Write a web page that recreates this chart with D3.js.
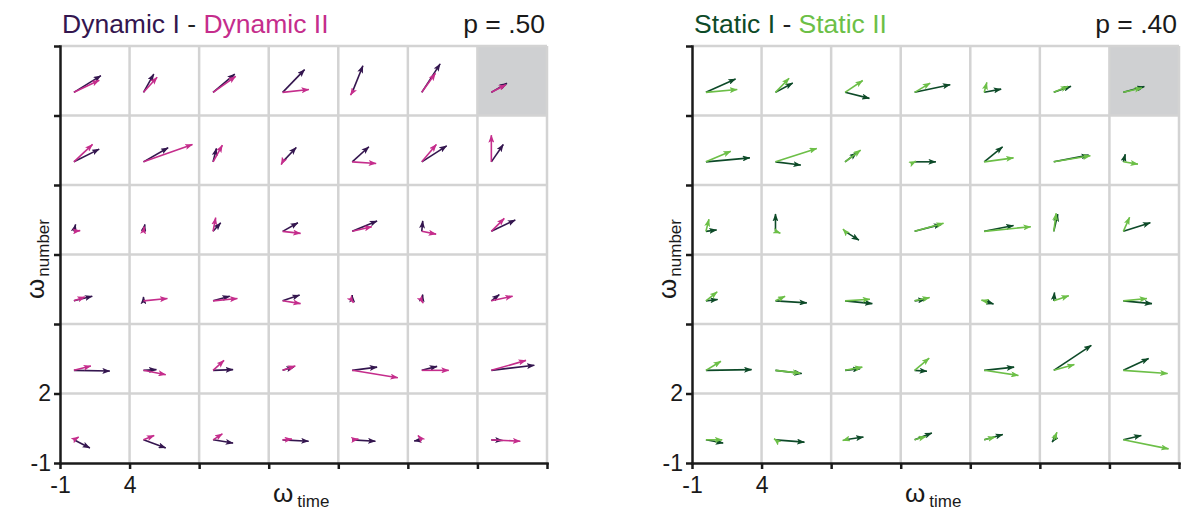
<!DOCTYPE html>
<html>
<head>
<meta charset="utf-8">
<script src="https://d3js.org/d3.v7.min.js"></script>
<style>
body { margin: 0; background: #fff; }
svg { font-family: "Liberation Sans", Arial, Helvetica, sans-serif; }
</style>
</head>
<body>
<div class="chart"></div>
<script>
// grid: 7 columns x 6 rows, each cell spans 5 units in time and 3 units in number
const nCols = 7, nRows = 6;
const cellX = 5, cellY = 3;
const xTickLabels = ["-1", "4"];
const yTickLabels = ["-1", "2"];

// vectors [dx, dy], row by row from the top, left to right
const dynamicI = [
  [1.94, 0.72], [0.74, 0.79], [1.56, 0.79], [1.58, 0.98], [0.77, 1.15], [1.32, 1.23], [1.12, 0.39],
  [1.82, 0.55], [1.77, 0.61], [0.24, 0.58], [0.98, 0.62], [1.20, 0.65], [1.79, 0.69], [0.86, 0.75],
  [0.12, 0.30], [0.10, 0.30], [0.55, 0.37], [1.10, 0.37], [1.79, 0.45], [0.07, 0.45], [1.72, 0.49],
  [1.32, 0.20], [0.00, 0.17], [1.20, 0.20], [1.22, 0.25], [0.00, 0.25], [0.07, 0.27], [0.57, 0.27],
  [2.58, -0.03], [0.93, 0.03], [1.44, 0.03], [0.81, 0.14], [1.79, 0.14], [1.10, 0.17], [3.09, 0.22],
  [1.15, -0.35], [1.60, -0.35], [1.44, -0.14], [1.87, -0.06], [1.67, -0.06], [-0.55, -0.05], [0.81, -0.03]
];
const dynamicII = [
  [1.82, 0.52], [0.98, 0.65], [1.63, 0.69], [1.89, 0.12], [-0.12, -0.12], [0.98, 0.82], [1.05, 0.33],
  [1.34, 0.75], [3.52, 0.75], [0.67, 0.72], [-0.10, -0.12], [1.72, -0.07], [1.05, 0.75], [0.00, 1.15],
  [0.45, 0.03], [0.05, 0.20], [0.19, 0.59], [1.29, -0.09], [1.41, 0.20], [1.03, -0.12], [0.93, 0.56],
  [0.79, 0.17], [1.72, 0.10], [1.75, 0.10], [1.29, -0.12], [0.10, -0.08], [0.10, -0.10], [1.53, 0.20],
  [1.22, 0.19], [1.60, -0.19], [0.79, 0.43], [0.91, 0.19], [3.28, -0.32], [1.94, 0.00], [2.49, 0.43],
  [0.34, 0.12], [0.77, 0.19], [0.67, 0.26], [0.67, 0.03], [0.45, 0.03], [-0.27, 0.19], [2.08, -0.06]
];
const staticI = [
  [2.13, 0.58], [1.24, 0.40], [1.75, -0.26], [2.56, 0.33], [1.22, 0.14], [1.24, 0.26], [1.51, 0.25],
  [3.16, 0.17], [1.82, -0.14], [0.84, 0.39], [1.53, 0.00], [1.32, 0.65], [2.51, 0.29], [0.14, 0.33],
  [0.77, 0.06], [0.00, 0.75], [1.00, -0.38], [1.91, 0.30], [2.11, 0.25], [0.29, 0.74], [1.94, 0.37],
  [0.84, 0.06], [2.25, -0.09], [1.96, -0.12], [0.77, 0.06], [0.67, -0.14], [0.05, 0.36], [2.06, -0.12],
  [3.28, 0.03], [1.89, -0.14], [1.08, 0.07], [0.89, -0.04], [2.15, 0.14], [2.70, 1.08], [1.82, 0.51],
  [1.24, -0.14], [2.08, -0.10], [1.32, 0.12], [1.24, 0.30], [1.34, 0.23], [-0.12, -0.10], [1.29, 0.19]
];
const staticII = [
  [2.25, 0.12], [0.98, 0.61], [1.27, 0.51], [1.12, 0.40], [0.19, 0.43], [1.03, 0.26], [1.34, 0.19],
  [1.79, 0.46], [2.97, 0.58], [1.12, 0.51], [0.10, 0.03], [2.11, 0.17], [2.63, 0.26], [1.05, -0.10],
  [0.22, 0.52], [0.35, -0.08], [-0.15, 0.10], [2.08, 0.35], [3.35, 0.20], [0.17, 0.78], [0.45, 0.61],
  [0.81, 0.39], [0.69, 0.20], [1.79, 0.07], [1.08, 0.14], [-0.20, 0.03], [1.08, 0.22], [1.70, 0.10],
  [1.08, 0.39], [1.77, -0.12], [1.24, 0.14], [1.05, 0.53], [2.46, -0.22], [1.48, 0.25], [3.18, -0.14],
  [1.17, 0.00], [-0.10, 0.05], [-0.17, -0.03], [0.81, 0.14], [0.79, 0.12], [0.23, 0.33], [3.25, -0.39]
];

const width = 487, height = 417, topY = 46;

const svg = d3.select(".chart").append("svg")
  .attr("width", 1193)
  .attr("height", 510);

const defs = svg.append("defs");
function addMarker(id, color) {
  defs.append("marker")
    .attr("id", id)
    .attr("viewBox", "0 0 8 6")
    .attr("refX", 7.5)
    .attr("refY", 3)
    .attr("markerUnits", "userSpaceOnUse")
    .attr("markerWidth", 8)
    .attr("markerHeight", 6)
    .attr("orient", "auto")
    .append("path")
    .attr("d", "M0,0 L8,3 L0,6 L1.8,3 Z")
    .attr("fill", color);
}

function drawPanel(left, titleA, titleB, colorA, colorB, pText, seriesA, seriesB) {
  const g = svg.append("g").attr("transform", `translate(${left},${topY})`);

  const xScale = d3.scaleLinear()
    .domain([-1, -1 + nCols * cellX])
    .range([0, width]);
  const yScale = d3.scaleLinear()
    .domain([-1, -1 + nRows * cellY])
    .range([height, 0]);

  const xBounds = d3.range(0, nCols + 1).map(k => -1 + k * cellX);
  const yBounds = d3.range(0, nRows + 1).map(k => -1 + k * cellY);

  // shaded cell top right
  g.append("rect")
    .attr("x", xScale(xBounds[nCols - 1]))
    .attr("y", yScale(yBounds[nRows]))
    .attr("width", xScale(xBounds[nCols]) - xScale(xBounds[nCols - 1]))
    .attr("height", yScale(yBounds[nRows - 1]) - yScale(yBounds[nRows]))
    .attr("fill", "#cfd0d2");

  g.selectAll(".vgrid")
    .data(xBounds.slice(1))
    .enter()
    .append("line")
    .attr("x1", d => xScale(d)).attr("x2", d => xScale(d))
    .attr("y1", 0).attr("y2", height)
    .attr("stroke", "#d3d3d3")
    .attr("stroke-width", 2.5);

  g.selectAll(".hgrid")
    .data(yBounds.slice(1))
    .enter()
    .append("line")
    .attr("x1", 0).attr("x2", width)
    .attr("y1", d => yScale(d)).attr("y2", d => yScale(d))
    .attr("stroke", "#d3d3d3")
    .attr("stroke-width", 2.5);

  const xAxis = d3.axisBottom(xScale)
    .tickValues(xBounds)
    .tickFormat((d, i) => xTickLabels[i] || "")
    .tickSize(6)
    .tickSizeOuter(0)
    .tickPadding(8);

  const yAxis = d3.axisLeft(yScale)
    .tickValues(yBounds)
    .tickFormat((d, i) => yTickLabels[i] || "")
    .tickSize(6)
    .tickSizeOuter(0)
    .tickPadding(3);

  g.append("g")
    .attr("transform", `translate(0,${height})`)
    .call(xAxis)
    .call(a => a.select(".domain").attr("stroke-width", 2.5).attr("stroke-linecap", "square").attr("stroke", "#1a1a1a"))
    .call(a => a.selectAll(".tick line").attr("stroke-width", 2.5).attr("stroke", "#1a1a1a"))
    .call(a => a.selectAll(".tick text")
      .attr("font-size", 23)
      .attr("font-family", "Liberation Sans, Arial, sans-serif")
      .attr("fill", "#1a1a1a"));

  g.append("g")
    .call(yAxis)
    .call(a => a.select(".domain").attr("stroke-width", 2.5).attr("stroke-linecap", "square").attr("stroke", "#1a1a1a"))
    .call(a => a.selectAll(".tick line").attr("stroke-width", 2.5).attr("stroke", "#1a1a1a"))
    .call(a => a.selectAll(".tick text")
      .attr("font-size", 23)
      .attr("font-family", "Liberation Sans, Arial, sans-serif")
      .attr("fill", "#1a1a1a"));

  // arrows, both series start at (0,0) of their cell
  function arrows(series, color, id) {
    addMarker(id, color);
    g.append("g")
      .selectAll("line")
      .data(series)
      .enter()
      .append("line")
      .attr("x1", (d, i) => xScale((i % nCols) * cellX))
      .attr("y1", (d, i) => yScale((nRows - 1 - Math.floor(i / nCols)) * cellY))
      .attr("x2", (d, i) => xScale((i % nCols) * cellX + d[0]))
      .attr("y2", (d, i) => yScale((nRows - 1 - Math.floor(i / nCols)) * cellY + d[1]))
      .attr("stroke", color)
      .attr("stroke-width", 1.6)
      .attr("marker-end", `url(#${id})`);
  }
  arrows(seriesA, colorA, "m" + left + "a");
  arrows(seriesB, colorB, "m" + left + "b");

  // title
  const title = g.append("text")
    .attr("x", 2)
    .attr("y", 33 - topY)
    .attr("font-size", 26.5);
  title.append("tspan").attr("fill", colorA).text(titleA);
  title.append("tspan").attr("fill", "#222").text(" - ");
  title.append("tspan").attr("fill", colorB).text(titleB);

  g.append("text")
    .attr("x", width - 2)
    .attr("y", 33 - topY)
    .attr("text-anchor", "end")
    .attr("font-size", 26.5)
    .attr("fill", "#1a1a1a")
    .text(pText);

  // axis titles
  const xl = g.append("text")
    .attr("x", 213)
    .attr("y", 502 - topY)
    .attr("fill", "#1a1a1a");
  xl.append("tspan").attr("font-size", 26).text("ω");
  xl.append("tspan").attr("font-size", 17).attr("dx", 4).attr("dy", 5).text("time");

  const yl = g.append("text")
    .attr("transform", `translate(-16,${299 - topY}) rotate(-90)`)
    .attr("fill", "#1a1a1a");
  yl.append("tspan").attr("font-size", 26).text("ω");
  yl.append("tspan").attr("font-size", 17).attr("dx", 2).attr("dy", 5).text("number");
}

drawPanel(60, "Dynamic I", "Dynamic II", "#34164f", "#c52d8c", "p = .50", dynamicI, dynamicII);
drawPanel(692, "Static I", "Static II", "#0d4a28", "#6cbf47", "p = .40", staticI, staticII);
</script>
</body>
</html>
